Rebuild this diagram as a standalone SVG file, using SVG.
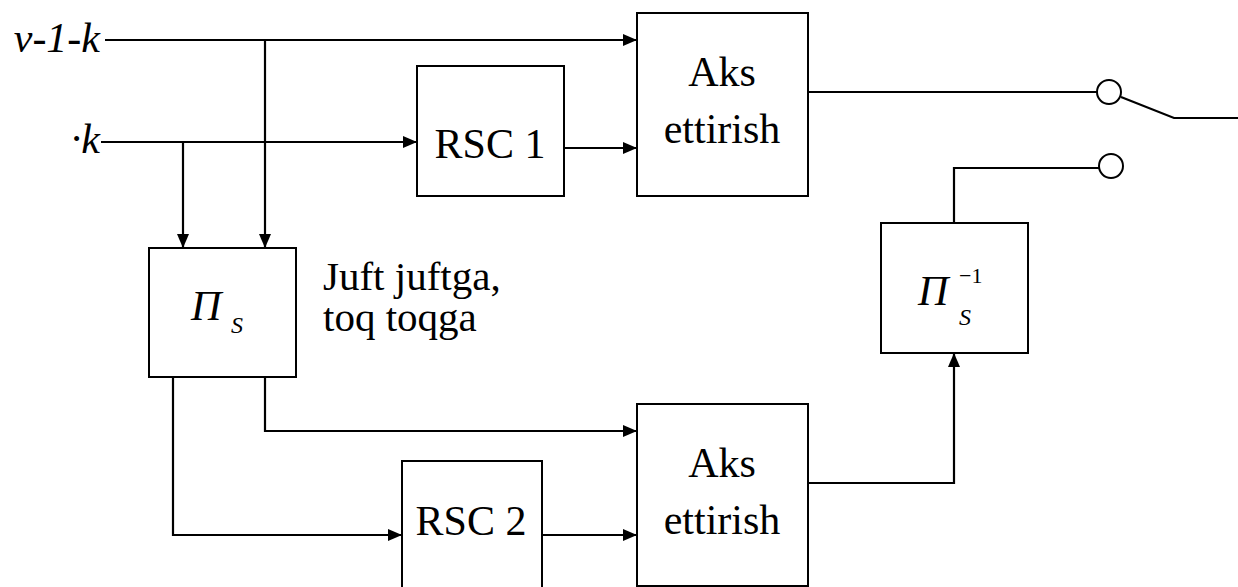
<svg xmlns="http://www.w3.org/2000/svg" width="1238" height="587" viewBox="0 0 1238 587">
<style>
.box{fill:#fff;stroke:#000;stroke-width:2}
.ln{fill:none;stroke:#000;stroke-width:2.2}
</style>
<defs>
<marker id="ah" markerWidth="14" markerHeight="12" refX="14" refY="6" orient="auto" markerUnits="userSpaceOnUse">
<path d="M0,0 L14,6 L0,12 Z" fill="#000"/>
</marker>
</defs>
<rect width="1238" height="587" fill="#fff"/>
<g id="connectors">
<path class="ln" d="M105,40 H637" marker-end="url(#ah)"/>
<path class="ln" d="M265,40 V248" marker-end="url(#ah)"/>
<path class="ln" d="M101,142 H417" marker-end="url(#ah)"/>
<path class="ln" d="M183,142 V248" marker-end="url(#ah)"/>
<path class="ln" d="M564,148 H637" marker-end="url(#ah)"/>
<path class="ln" d="M808,92 H1097"/>
<path class="ln" d="M1121,97 L1174,118 H1238"/>
<path class="ln" d="M1099,168 H954 V223"/>
<path class="ln" d="M808,483 H954 V353" marker-end="url(#ah)"/>
<path class="ln" d="M265,377 V431 H637" marker-end="url(#ah)"/>
<path class="ln" d="M173,377 V535 H402" marker-end="url(#ah)"/>
<path class="ln" d="M542,535 H637" marker-end="url(#ah)"/>
<circle class="box" cx="1109" cy="92" r="12"/>
<circle class="box" cx="1111" cy="166" r="12"/>
</g>
<g id="input1"><text font-family="Liberation Serif" font-size="42" font-style="italic" x="100" y="52" text-anchor="end">v-1-k</text></g>
<g id="input2"><text font-family="Liberation Serif" font-size="42" font-style="italic" x="100" y="153" text-anchor="end">&#183;k</text></g>
<g id="rsc1">
<rect class="box" x="417" y="66" width="147" height="130"/>
<text font-family="Liberation Serif" font-size="42" x="490" y="158" text-anchor="middle">RSC 1</text>
</g>
<g id="aks1">
<rect class="box" x="637" y="13" width="171" height="183"/>
<text font-family="Liberation Serif" font-size="42" x="722" y="86" text-anchor="middle">Aks</text>
<text font-family="Liberation Serif" font-size="42" x="722" y="143" text-anchor="middle">ettirish</text>
</g>
<g id="pis">
<rect class="box" x="149" y="248" width="147" height="129"/>
<text font-family="Liberation Serif" font-size="42" font-style="italic" x="191" y="320">&#928;</text>
<text font-family="Liberation Serif" font-size="24" font-style="italic" x="231" y="333">S</text>
</g>
<g id="note">
<text font-family="Liberation Serif" font-size="41" x="323" y="290">Juft juftga,</text>
<text font-family="Liberation Serif" font-size="41" x="323" y="331">toq toqga</text>
</g>
<g id="pisinv">
<rect class="box" x="881" y="223" width="147" height="130"/>
<text font-family="Liberation Serif" font-size="42" font-style="italic" x="918" y="305">&#928;</text>
<text font-family="Liberation Serif" font-size="24" font-style="italic" x="959" y="325">S</text>
<text font-family="Liberation Serif" font-size="22" x="959" y="283">&#8722;1</text>
</g>
<g id="aks2">
<rect class="box" x="637" y="404" width="171" height="182"/>
<text font-family="Liberation Serif" font-size="42" x="722" y="477" text-anchor="middle">Aks</text>
<text font-family="Liberation Serif" font-size="42" x="722" y="534" text-anchor="middle">ettirish</text>
</g>
<g id="rsc2">
<rect class="box" x="402" y="461" width="140" height="130"/>
<text font-family="Liberation Serif" font-size="42" x="471" y="535" text-anchor="middle">RSC 2</text>
</g>
</svg>
